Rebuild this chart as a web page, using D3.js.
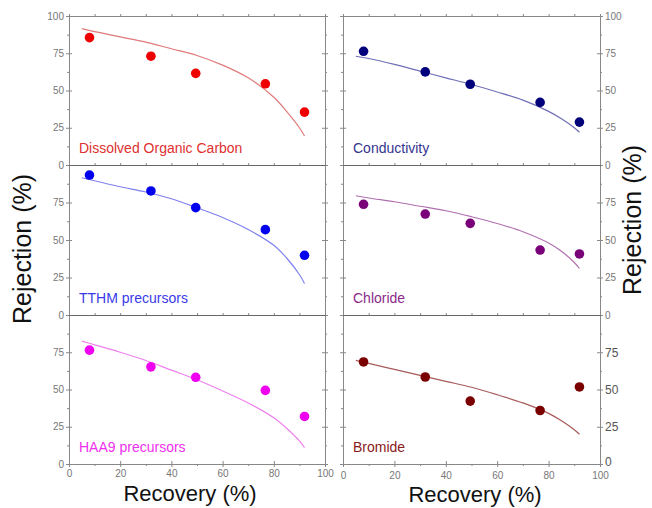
<!DOCTYPE html>
<html>
<head>
<meta charset="utf-8">
<script src="https://cdn.jsdelivr.net/npm/d3@7"></script>
<style>
  body { margin: 0; background: #fff; }
  svg { font-family: "Liberation Sans", Arial, sans-serif; }
  .tick text { fill: #777; font-size: 10px; }
  .tick line, .domain { stroke: #888; }
</style>
</head>
<body>
<svg id="chart" width="652" height="508"></svg>
<script>
// measured points (recovery %, rejection %)
var recovery = [8, 32, 49.5, 76.7, 92]
var docRej = [85.5, 73, 61.5, 54.5, 35.5]
var condRej = [76.3, 62.5, 54.2, 42, 28.8]
var tthmRej = [93.3, 82.7, 71.6, 56.9, 39.8]
var chlorideRej = [73.8, 67.3, 61.1, 43.3, 40.7]
var haa9Rej = [76.4, 65.2, 58.2, 49.4, 31.9]
var bromideRej = [68.5, 58.4, 42.2, 35.9, 51.7]

// model curves
var fitRecovery = [5, 10, 20, 30, 40, 50, 60, 70, 80, 85, 90, 92]
var docFit = [91.5, 89.5, 86, 82.5, 78, 73.5, 67, 58.5, 45.5, 36, 25, 19.5]
var condFit = [73, 71.5, 67.5, 63, 58.5, 54, 49, 43.5, 36, 31, 25, 22]
var tthmFit = [91.5, 89.5, 85.5, 82, 77.5, 71.5, 65, 57, 46.5, 38, 27, 21]
var chlorideFit = [79.5, 78, 75.5, 72.5, 69.5, 65.5, 61, 55.5, 48, 42.5, 35, 31]
var haa9Fit = [82.5, 80, 75, 69.5, 63, 56.5, 49, 41, 31, 24, 15.5, 11]
var bromideFit = [69.5, 67.5, 63.5, 59.5, 55.5, 51.5, 46.5, 41, 34, 29, 23, 20]

var xTicks = [0, 20, 40, 60, 80, 100]
var yTicksTop = [0, 25, 50, 75, 100]
var yTicks = [0, 25, 50, 75]

var panels = [
  {name: "Dissolved Organic Carbon", col: 0, row: 0, pts: docRej, fit: docFit, dot: "#ee0000", line: "#e07a7a", txt: "#e03030"},
  {name: "Conductivity", col: 1, row: 0, pts: condRej, fit: condFit, dot: "#00007a", line: "#7070b8", txt: "#353590"},
  {name: "TTHM precursors", col: 0, row: 1, pts: tthmRej, fit: tthmFit, dot: "#0000ee", line: "#8080f0", txt: "#3a3ae8"},
  {name: "Chloride", col: 1, row: 1, pts: chlorideRej, fit: chlorideFit, dot: "#7a007a", line: "#b070b0", txt: "#8a2a8a"},
  {name: "HAA9 precursors", col: 0, row: 2, pts: haa9Rej, fit: haa9Fit, dot: "#f000f0", line: "#ee80ee", txt: "#ee30ee"},
  {name: "Bromide", col: 1, row: 2, pts: bromideRej, fit: bromideFit, dot: "#7a0000", line: "#a85a5a", txt: "#8a2020"}
]

var colX = [[69, 325], [343, 600]]
var rowY = [[16, 165], [165, 315], [315, 464]]

var svg = d3.select("#chart")

var minorX = d3.range(10, 100, 20)

panels.forEach(function (p) {
  var x = d3.scaleLinear().domain([0, 100]).range(colX[p.col])
  var y = d3.scaleLinear().domain([0, 100]).range([rowY[p.row][1], rowY[p.row][0]])
  var x0 = colX[p.col][0], x1 = colX[p.col][1]
  var y0 = rowY[p.row][0], y1 = rowY[p.row][1]
  var g = svg.append("g")

  var yt = p.row == 0 ? yTicksTop : yTicks
  var minorY = d3.range(12.5, 100, 25)

  // left edge
  var la = g.append("g").attr("transform", "translate(" + x0 + ",0)")
    .call(d3.axisLeft(y).tickValues(yt).tickSize(3).tickSizeOuter(0).tickPadding(2)
      .tickFormat(p.col == 0 ? d3.format("d") : ""))
  la.selectAll(".tick line").attr("x2", -3).attr("x1", 3)
  g.append("g").attr("transform", "translate(" + x0 + ",0)")
    .call(d3.axisLeft(y).tickValues(minorY).tickSize(2).tickSizeOuter(0).tickFormat(""))
    .select(".domain").remove()

  // right edge
  var ra = g.append("g").attr("transform", "translate(" + x1 + ",0)")
    .call(d3.axisRight(y).tickValues(yt).tickSize(3).tickSizeOuter(0).tickPadding(2)
      .tickFormat(p.col == 1 ? d3.format("d") : ""))
  ra.selectAll(".tick line").attr("x1", -3)
  g.append("g").attr("transform", "translate(" + x1 + ",0)")
    .call(d3.axisRight(y).tickValues(minorY).tickSize(2).tickSizeOuter(0).tickFormat(""))
    .select(".domain").remove()
  if (p.col == 1 && p.row == 2) {
    ra.selectAll(".tick text").style("font-size", "12px").style("fill", "#555")
    ra.selectAll(".tick text").filter(function (d) { return d == 0 }).attr("dy", "0.1em")
  }

  // top edge
  g.append("g").attr("transform", "translate(0," + y0 + ")")
    .call(d3.axisTop(x).tickValues(xTicks.concat(minorX)).tickSize(2).tickSizeOuter(0).tickFormat(""))
    .select(".domain").style("stroke", p.row == 0 ? "#888" : "#666")

  // bottom edge
  var ba = g.append("g").attr("transform", "translate(0," + y1 + ")")
  if (p.row == 2) {
    ba.call(d3.axisBottom(x).tickValues(xTicks).tickSize(3).tickSizeOuter(0).tickPadding(p.col == 1 ? 5 : 3))
    ba.selectAll(".tick line").attr("y1", -3)
    g.append("g").attr("transform", "translate(0," + y1 + ")")
      .call(d3.axisBottom(x).tickValues(minorX).tickSize(2).tickSizeOuter(0).tickFormat(""))
      .select(".domain").remove()
  } else {
    ba.call(d3.axisBottom(x).tickValues([]).tickSizeOuter(0))
    ba.select(".domain").style("stroke", "#666")
  }

  // fitted curve
  var line = d3.line()
    .x(function (d, i) { return x(fitRecovery[i]) })
    .y(function (d) { return y(d) })
    .curve(d3.curveCatmullRom)
  g.append("path")
    .datum(p.fit)
    .attr("d", line)
    .attr("fill", "none")
    .attr("stroke", p.line)
    .attr("stroke-width", 1.2)

  g.selectAll("circle")
    .data(p.pts)
    .enter()
    .append("circle")
    .attr("cx", function (d, i) { return x(recovery[i]) })
    .attr("cy", function (d) { return y(d) })
    .attr("r", 4.8)
    .attr("fill", p.dot)

  g.append("text")
    .attr("x", x0 + 10)
    .attr("y", y1 - 12)
    .style("font-size", "14px")
    .style("fill", p.txt)
    .text(p.name)
})

// axis titles
svg.append("text")
  .attr("transform", "translate(31,249) rotate(-90)")
  .style("text-anchor", "middle")
  .style("font-size", "25px")
  .style("fill", "#111")
  .text("Rejection (%)")

svg.append("text")
  .attr("transform", "translate(641,220) rotate(-90)")
  .style("text-anchor", "middle")
  .style("font-size", "25px")
  .style("fill", "#111")
  .text("Rejection (%)")

svg.append("text")
  .attr("x", 190).attr("y", 501)
  .style("text-anchor", "middle")
  .style("font-size", "22px")
  .style("fill", "#111")
  .text("Recovery (%)")

svg.append("text")
  .attr("x", 475).attr("y", 502)
  .style("text-anchor", "middle")
  .style("font-size", "22px")
  .style("fill", "#111")
  .text("Recovery (%)")
</script>
</body>
</html>
